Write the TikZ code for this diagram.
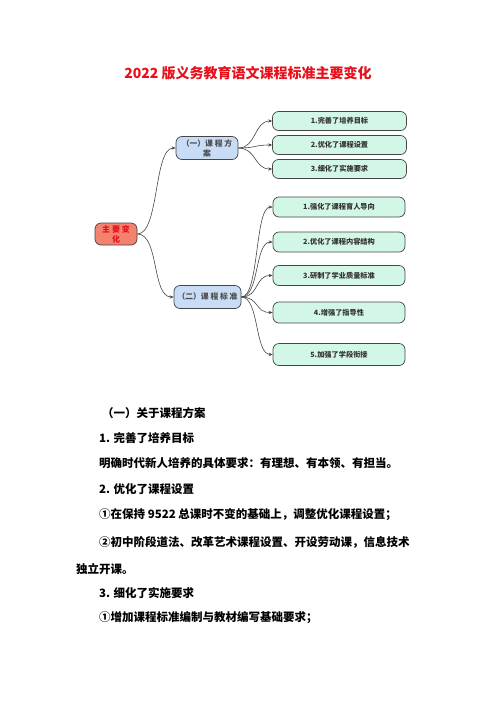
\documentclass[tikz,border=0pt]{standalone}
\usepackage{fontspec}
\usetikzlibrary{arrows.meta}
\newfontfamily\cjk{Noto Sans CJK SC}
\definecolor{rootfill}{HTML}{F3836F}
\definecolor{rootred}{HTML}{E3101C}
\definecolor{parfill}{HTML}{C9DCF6}
\definecolor{leaffill}{HTML}{D3F7E6}
\definecolor{edge}{HTML}{454545}
\definecolor{ttl}{HTML}{E8101A}
\tikzset{
  rootbox/.style={draw=edge, line width=0.7pt, fill=rootfill, rounded corners=6pt,
    minimum width=42pt, minimum height=22pt, inner sep=1pt, align=center,
    font=\cjk\bfseries\fontsize{8}{10}\selectfont, text=rootred},
  parbox/.style={draw=edge, line width=0.7pt, fill=parfill, rounded corners=6pt,
    minimum height=23pt, inner sep=1pt, align=center,
    font=\cjk\bfseries\fontsize{7.8}{10}\selectfont, text=black!70},
  leafbox/.style={draw=edge, line width=0.7pt, fill=leaffill, rounded corners=6pt,
    minimum width=134pt, minimum height=19pt, inner sep=1pt,
    font=\cjk\bfseries\fontsize{7.2}{9}\selectfont, text=black!80},
  conn/.style={draw=edge, line width=0.6pt, -{Stealth[length=4pt,width=3.2pt]}},
  body/.style={anchor=west, inner sep=0pt, font=\cjk\bfseries\fontsize{11.5}{13}\selectfont, text=black},
}
\begin{document}
\begin{tikzpicture}[x=1pt,y=-1pt]
\useasboundingbox[fill=white] (0,0) rectangle (496,702);
\node[inner sep=0pt, font=\cjk\bfseries\fontsize{14}{16}\selectfont, text=ttl] (title) at (248,73) {2022 版义务教育语文课程标准主要变化};

\node[rootbox] (root) at (116,234) {主 要 变\\化};
\node[parbox, minimum width=62pt] (p1) at (207,148) {（一）课 程 方\\案};
\node[parbox, minimum width=67pt] (p2) at (207.5,297) {（二）课 程 标 准};

\node[leafbox] (a1) at (339.5,121) {1.完善了培养目标};
\node[leafbox] (a2) at (339.5,145) {2.优化了课程设置};
\node[leafbox] (a3) at (339.5,169) {3.细化了实施要求};

\node[leafbox, minimum width=132pt, minimum height=20pt] (b1) at (339,207) {1.强化了课程育人导向};
\node[leafbox, minimum width=132pt, minimum height=20pt] (b2) at (339,242) {2.优化了课程内容结构};
\node[leafbox, minimum width=132pt, minimum height=20pt] (b3) at (339,275.5) {3.研制了学业质量标准};
\node[leafbox, minimum width=132pt, minimum height=21pt] (b4) at (339,312.5) {4.增强了指导性};
\node[leafbox, minimum width=132pt, minimum height=22pt] (b5) at (339,354.5) {5.加强了学段衔接};

\draw[conn] (root.east) .. controls +(22,0) and +(-22,0) .. (p1.west);
\draw[conn] (root.east) .. controls +(22,0) and +(-22,0) .. (p2.west);
\foreach \t in {a1,a2,a3}{
  \draw[conn] (p1.east) .. controls +(18,0) and +(-18,0) .. (\t.west);
}
\foreach \t in {b1,b2,b3,b4,b5}{
  \draw[conn] (p2.east) .. controls +(18,0) and +(-18,0) .. (\t.west);
}

\node[body] (t1) at (102,413) {（一）关于课程方案};
\node[body] (t2) at (99,438) {1. 完善了培养目标};
\node[body] (t3) at (99,463) {明确时代新人培养的具体要求：有理想、有本领、有担当。};
\node[body] (t4) at (99,489) {2. 优化了课程设置};
\node[body] (t5) at (99,515) {①在保持 9522 总课时不变的基础上，调整优化课程设置；};
\node[body] (t6) at (99,542) {②初中阶段道法、改革艺术课程设置、开设劳动课，信息技术};
\node[body] (t7) at (76,569) {独立开课。};
\node[body] (t8) at (99,593) {3. 细化了实施要求};
\node[body] (t9) at (99,618) {①增加课程标准编制与教材编写基础要求；};
\end{tikzpicture}
\end{document}
